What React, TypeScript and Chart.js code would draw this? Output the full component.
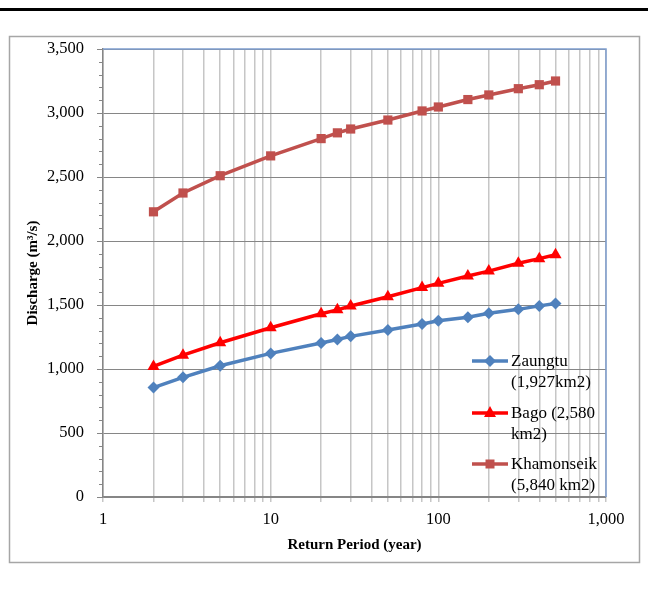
import React, { useEffect, useRef } from "react";
import { Chart, registerables } from "chart.js";

Chart.register(...registerables);

const returnPeriods = [2, 3, 5, 10, 20, 25, 30, 50, 80, 100, 150, 200, 300, 400, 500];
const zaungtu = [855, 935, 1025, 1122, 1203, 1230, 1255, 1305, 1352, 1377, 1405, 1435, 1466, 1493, 1512];
const bago = [1020, 1108, 1205, 1322, 1432, 1462, 1492, 1565, 1636, 1669, 1727, 1765, 1826, 1862, 1893];
const khamonseik = [2228, 2375, 2510, 2665, 2800, 2845, 2875, 2945, 3016, 3047, 3105, 3141, 3190, 3221, 3250];

const seriesLabels = [
  ["Zaungtu", "(1,927km2)"],
  ["Bago (2,580", "km2)"],
  ["Khamonseik", "(5,840 km2)"],
];
const seriesColors = ["#4f81bd", "#ff0000", "#c0504d"];
const xTickValues = [1, 2, 3, 4, 5, 6, 7, 8, 9, 10, 20, 30, 40, 50, 60, 70, 80, 90, 100, 200, 300, 400, 500, 600, 700, 800, 900, 1000];
const xTickLabels: Record<number, string> = { 1: "1", 10: "10", 100: "100", 1000: "1,000" };
const xTitle = "Return Period (year)";
const yTitle = "Discharge (m\u00b3/s)";

const FONT = "'Liberation Serif', 'Times New Roman', serif";

const deco = {
  id: "deco",
  beforeDraw(chart: any) {
    const ctx = chart.ctx;
    ctx.save();
    ctx.fillStyle = "#ffffff";
    ctx.fillRect(0, 0, chart.width, chart.height);
    ctx.fillStyle = "#000000";
    ctx.fillRect(0, 8, chart.width, 3);
    ctx.strokeStyle = "#a6a6a6";
    ctx.lineWidth = 1.5;
    ctx.strokeRect(9.5, 36.5, 630, 526);
    ctx.restore();
  },
  afterDraw(chart: any) {
    const ctx = chart.ctx;
    const a = chart.chartArea;
    const ys = chart.scales.y;
    ctx.save();
    // minor y ticks
    ctx.strokeStyle = "#868686";
    ctx.lineWidth = 1;
    for (let v = 100; v < 3500; v += 100) {
      if (v % 500 === 0) continue;
      const y = Math.round(ys.getPixelForValue(v)) + 0.5;
      ctx.beginPath();
      ctx.moveTo(a.left - 4, y);
      ctx.lineTo(a.left, y);
      ctx.stroke();
    }
    // blue plot border top/right
    ctx.strokeStyle = "#7f9fcf";
    ctx.lineWidth = 1.5;
    ctx.beginPath();
    ctx.moveTo(a.left, a.top);
    ctx.lineTo(a.right, a.top);
    ctx.lineTo(a.right, a.bottom);
    ctx.stroke();

    // legend
    const lx0 = 472, lx1 = 508, tx = 511;
    const itemY = [361, 413, 464];
    ctx.font = `17px ${FONT}`;
    ctx.textBaseline = "middle";
    ctx.textAlign = "left";
    seriesLabels.forEach((lines, i) => {
      const y = itemY[i];
      const c = seriesColors[i];
      ctx.strokeStyle = c;
      ctx.fillStyle = c;
      ctx.lineWidth = 3.5;
      ctx.beginPath();
      ctx.moveTo(lx0, y);
      ctx.lineTo(lx1, y);
      ctx.stroke();
      const cx = (lx0 + lx1) / 2;
      ctx.beginPath();
      if (i === 0) {
        ctx.moveTo(cx, y - 6);
        ctx.lineTo(cx + 6, y);
        ctx.lineTo(cx, y + 6);
        ctx.lineTo(cx - 6, y);
      } else if (i === 1) {
        ctx.moveTo(cx, y - 7);
        ctx.lineTo(cx + 6, y + 4);
        ctx.lineTo(cx - 6, y + 4);
      } else {
        ctx.rect(cx - 4.5, y - 4.5, 9, 9);
      }
      ctx.closePath();
      ctx.fill();
      ctx.fillStyle = "#000000";
      lines.forEach((t, j) => ctx.fillText(t, tx, y + 1 + j * 21));
    });
    ctx.restore();
  },
};

export default function App() {
  const ref = useRef<HTMLCanvasElement | null>(null);
  useEffect(() => {
    if (!ref.current) return;
    const mk = (data: number[]) => returnPeriods.map((x, i) => ({ x, y: data[i] }));
    const chart = new Chart(ref.current, {
      type: "line",
      data: {
        datasets: [
          {
            label: seriesLabels[0].join(" "),
            data: mk(zaungtu),
            borderColor: seriesColors[0],
            backgroundColor: seriesColors[0],
            borderWidth: 3.5,
            pointStyle: "rectRot",
            pointRadius: 6,
            pointBorderWidth: 0,
          },
          {
            label: seriesLabels[1].join(" "),
            data: mk(bago),
            borderColor: seriesColors[1],
            backgroundColor: seriesColors[1],
            borderWidth: 3.5,
            pointStyle: "triangle",
            pointRadius: 7,
            pointBorderWidth: 0,
          },
          {
            label: seriesLabels[2].join(" "),
            data: mk(khamonseik),
            borderColor: seriesColors[2],
            backgroundColor: seriesColors[2],
            borderWidth: 3.5,
            pointStyle: "rect",
            pointRadius: 6.5,
            pointBorderWidth: 0,
          },
        ],
      },
      options: {
        animation: false,
        responsive: false,
        devicePixelRatio: 1,
        layout: { padding: { left: 20, top: 49, right: 42, bottom: 35 } },
        plugins: { legend: { display: false }, tooltip: { enabled: false } },
        scales: {
          x: {
            type: "logarithmic",
            min: 1,
            max: 1000,
            afterBuildTicks: (s: any) => {
              s.ticks = xTickValues.map((v) => ({ value: v }));
            },
            afterFit: (s: any) => {
              s.height = 61;
            },
            ticks: {
              autoSkip: false,
              maxRotation: 0,
              padding: 8,
              color: "#000000",
              font: { family: FONT, size: 16.5 },
              callback: (v: any) => xTickLabels[v as number] ?? "",
            },
            grid: { color: "#c6c6c6", lineWidth: 1.5, tickLength: 5 },
            border: { color: "#868686", width: 1.5 },
            title: {
              display: true,
              text: xTitle,
              color: "#000000",
              font: { family: FONT, size: 15, weight: "bold" },
            },
          },
          y: {
            min: 0,
            max: 3500,
            afterFit: (s: any) => {
              s.width = 83;
            },
            ticks: {
              stepSize: 500,
              padding: 13,
              color: "#000000",
              font: { family: FONT, size: 16.5 },
              callback: (v: any) => Number(v).toLocaleString("en-US"),
            },
            grid: { color: "#868686", lineWidth: 1, tickLength: 6 },
            border: { color: "#868686", width: 1.5 },
            title: {
              display: true,
              text: yTitle,
              color: "#000000",
              font: { family: FONT, size: 15, weight: "bold" },
            },
          },
        },
      },
      plugins: [deco],
    } as any);
    return () => chart.destroy();
  }, []);
  return (
    <div style={{ position: "absolute", left: 0, top: 0, width: 648, height: 593 }}>
      <canvas ref={ref} width={648} height={593} style={{ display: "block", width: 648, height: 593 }} />
    </div>
  );
}
